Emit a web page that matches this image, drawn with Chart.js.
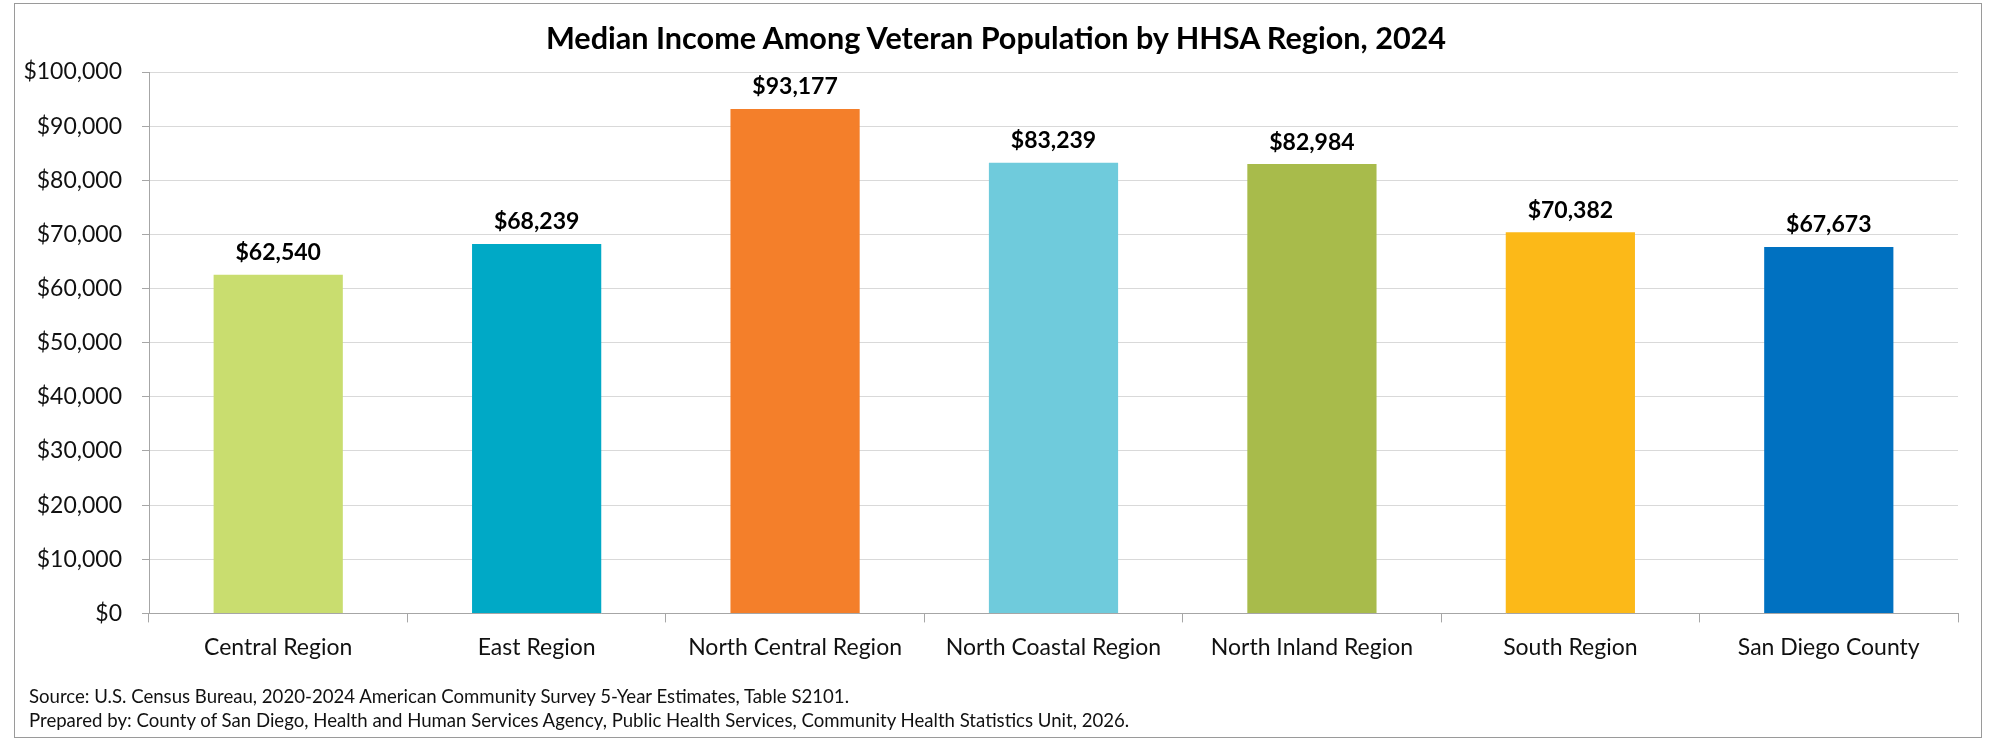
<!DOCTYPE html>
<html>
<head>
<meta charset="utf-8">
<title>Median Income Among Veteran Population by HHSA Region, 2024</title>
<script src="https://cdn.jsdelivr.net/npm/chart.js@4.4.1/dist/chart.umd.min.js"></script>
<style>
    html, body { margin: 0; padding: 0; background: #fff; }
    body { width: 1992px; height: 740px; position: relative; overflow: hidden; font-family: Lato, "Open Sans", sans-serif; }
    #frame { position: absolute; left: 14px; top: 3px; width: 1966px; height: 733px; border: 1px solid #9a9a9a; }
    #incomeChart { position: absolute; left: 0; top: 0; }
    #chart-title { position: absolute; left: 0; top: 19px; width: 1992px; text-align: center; font-size: 30.6px; font-weight: bold; color: #000; line-height: 38px; }
    .note { position: absolute; left: 29px; font-size: 18.6px; color: #111; white-space: nowrap; line-height: 24px; }
</style>
</head>
<body>
<div id="frame"></div>
<canvas id="incomeChart" width="1992" height="740"></canvas>
<div id="chart-title">Median Income Among Veteran Population by HHSA Region, 2024</div>
<div class="note" style="top: 684px;">Source: U.S. Census Bureau, 2020-2024 American Community Survey 5-Year Estimates, Table S2101.</div>
<div class="note" style="top: 708px;">Prepared by: County of San Diego, Health and Human Services Agency, Public Health Services, Community Health Statistics Unit, 2026.</div>
<script>
// 지역별 참전용사 중위소득 (2024)
const regions = ['Central Region', 'East Region', 'North Central Region', 'North Coastal Region', 'North Inland Region', 'South Region', 'San Diego County'];
const medianIncome = [62540, 68239, 93177, 83239, 82984, 70382, 67673];
const barColors = ['#C9DD6F', '#00A9C6', '#F47F2A', '#6FCBDC', '#A8BB4B', '#FCB918', '#0071C1'];
const yTicks = [0, 10000, 20000, 30000, 40000, 50000, 60000, 70000, 80000, 90000, 100000];

const money = v => '$' + v.toLocaleString('en-US');

// 막대 위 값 표시
const valueLabels = {
    id: 'valueLabels',
    afterDatasetsDraw(chart) {
        const ctx = chart.ctx;
        const meta = chart.getDatasetMeta(0);
        ctx.save();
        ctx.font = 'bold 23px Lato';
        ctx.fillStyle = '#000';
        ctx.textAlign = 'center';
        ctx.textBaseline = 'middle';
        meta.data.forEach((bar, i) => {
            ctx.fillText(money(medianIncome[i]), bar.x, bar.y - 22);
        });
        ctx.restore();
    }
};

const ctx = document.getElementById('incomeChart').getContext('2d');
new Chart(ctx, {
    type: 'bar',
    data: {
        labels: regions,
        datasets: [{
            data: medianIncome,
            backgroundColor: barColors,
            borderWidth: 0,
            barPercentage: 0.5,
            categoryPercentage: 1
        }]
    },
    options: {
        responsive: false,
        devicePixelRatio: 1,
        animation: false,
        layout: { padding: { left: 0, right: 34, top: 72, bottom: 68 } },
        plugins: {
            legend: { display: false },
            tooltip: { enabled: false },
            title: { display: false }
        },
        scales: {
            x: {
                grid: { display: true, drawOnChartArea: false, drawTicks: true, tickLength: 9, color: '#A6A6A6', offset: true },
                border: { display: true, color: '#A6A6A6' },
                ticks: { color: '#111', font: { family: 'Lato', size: 23 }, padding: 11, maxRotation: 0, autoSkip: false }
            },
            y: {
                min: 0,
                max: 100000,
                afterFit: scale => { scale.width = 149; },
                afterBuildTicks: scale => { scale.ticks = yTicks.map(v => ({ value: v })); },
                grid: { color: '#D9D9D9', tickColor: '#A6A6A6', tickLength: 7 },
                border: { display: true, color: '#A6A6A6' },
                ticks: { color: '#111', font: { family: 'Lato', size: 23 }, padding: 20, callback: v => money(v) }
            }
        }
    },
    plugins: [valueLabels]
});
</script>
</body>
</html>
